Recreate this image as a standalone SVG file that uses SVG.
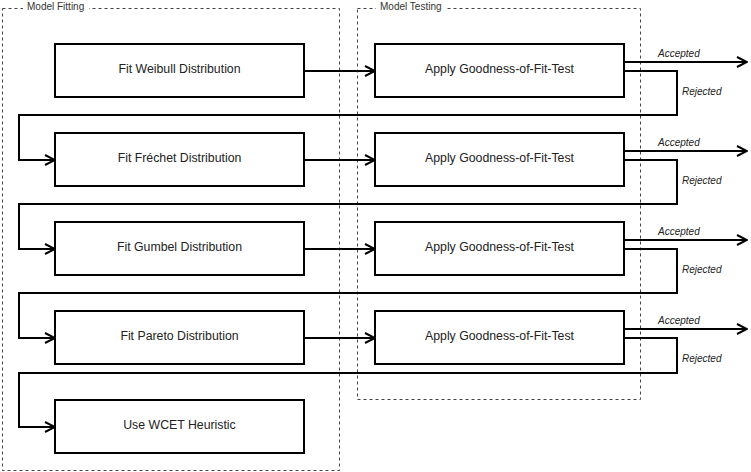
<svg xmlns="http://www.w3.org/2000/svg" width="751" height="472" viewBox="0 0 751 472">
<defs>
<marker id="arr" viewBox="0 0 12 12" refX="11" refY="6" markerWidth="12" markerHeight="12" markerUnits="userSpaceOnUse" orient="auto">
<path d="M1,1 L11,6 L1,11" fill="none" stroke="#000" stroke-width="2"/>
</marker>
<style>
.box{fill:#fff;stroke:#000;stroke-width:2}
.grp{fill:none;stroke:#444;stroke-width:1;stroke-dasharray:3,3}
.lbl{font-family:"Liberation Sans",Arial,sans-serif;font-size:12.3px;fill:#222;text-anchor:middle;dominant-baseline:central}
.gl{font-family:"Liberation Sans",Arial,sans-serif;font-size:10px;fill:#333}
.el{font-family:"Liberation Sans",Arial,sans-serif;font-size:10px;font-style:italic;fill:#222}
.c{fill:none;stroke:#000;stroke-width:2;marker-end:url(#arr)}
</style>
</defs>
<rect width="751" height="472" fill="#fff"/>
<g id="model-fitting">
<rect class="grp" x="2.5" y="8.5" width="337" height="462"/>
<rect x="23" y="1" width="66" height="14" fill="#fff"/>
<text class="gl" x="27" y="10">Model Fitting</text>
</g>
<g id="model-testing">
<rect class="grp" x="357.5" y="8.5" width="283" height="391"/>
<rect x="376" y="1" width="70" height="14" fill="#fff"/>
<text class="gl" x="380" y="10">Model Testing</text>
</g>
<g id="connectors">
<path class="c" d="M304,71 H375"/>
<path class="c" d="M304,160 H375"/>
<path class="c" d="M304,249 H375"/>
<path class="c" d="M304,338 H375"/>
<path class="c" d="M624,62 H747"/>
<path class="c" d="M624,151 H747"/>
<path class="c" d="M624,240 H747"/>
<path class="c" d="M624,329 H747"/>
<path class="c" d="M624,71 H677 V115 H19 V160 H55"/>
<path class="c" d="M624,160 H677 V204 H19 V249 H55"/>
<path class="c" d="M624,249 H677 V293 H19 V338 H55"/>
<path class="c" d="M624,338 H677 V373 H19 V427 H55"/>
<text class="el" x="658" y="56.5">Accepted</text>
<text class="el" x="658" y="145.5">Accepted</text>
<text class="el" x="658" y="234.5">Accepted</text>
<text class="el" x="658" y="323.5">Accepted</text>
<text class="el" x="682" y="95">Rejected</text>
<text class="el" x="682" y="184">Rejected</text>
<text class="el" x="682" y="273">Rejected</text>
<text class="el" x="682" y="362">Rejected</text>
</g>
<g id="fit-weibull"><rect class="box" x="55" y="44" width="249" height="53"/><text class="lbl" x="179.5" y="68.5">Fit Weibull Distribution</text></g>
<g id="fit-frechet"><rect class="box" x="55" y="133" width="249" height="53"/><text class="lbl" x="179.5" y="157.5">Fit Fréchet Distribution</text></g>
<g id="fit-gumbel"><rect class="box" x="55" y="222" width="249" height="53"/><text class="lbl" x="179.5" y="246.5">Fit Gumbel Distribution</text></g>
<g id="fit-pareto"><rect class="box" x="55" y="311" width="249" height="53"/><text class="lbl" x="179.5" y="335.5">Fit Pareto Distribution</text></g>
<g id="wcet"><rect class="box" x="55" y="400" width="249" height="53"/><text class="lbl" x="179.5" y="424.5">Use WCET Heuristic</text></g>
<g id="test-1"><rect class="box" x="375" y="44" width="249" height="53"/><text class="lbl" x="499.5" y="68.5">Apply Goodness-of-Fit-Test</text></g>
<g id="test-2"><rect class="box" x="375" y="133" width="249" height="53"/><text class="lbl" x="499.5" y="157.5">Apply Goodness-of-Fit-Test</text></g>
<g id="test-3"><rect class="box" x="375" y="222" width="249" height="53"/><text class="lbl" x="499.5" y="246.5">Apply Goodness-of-Fit-Test</text></g>
<g id="test-4"><rect class="box" x="375" y="311" width="249" height="53"/><text class="lbl" x="499.5" y="335.5">Apply Goodness-of-Fit-Test</text></g>
</svg>
